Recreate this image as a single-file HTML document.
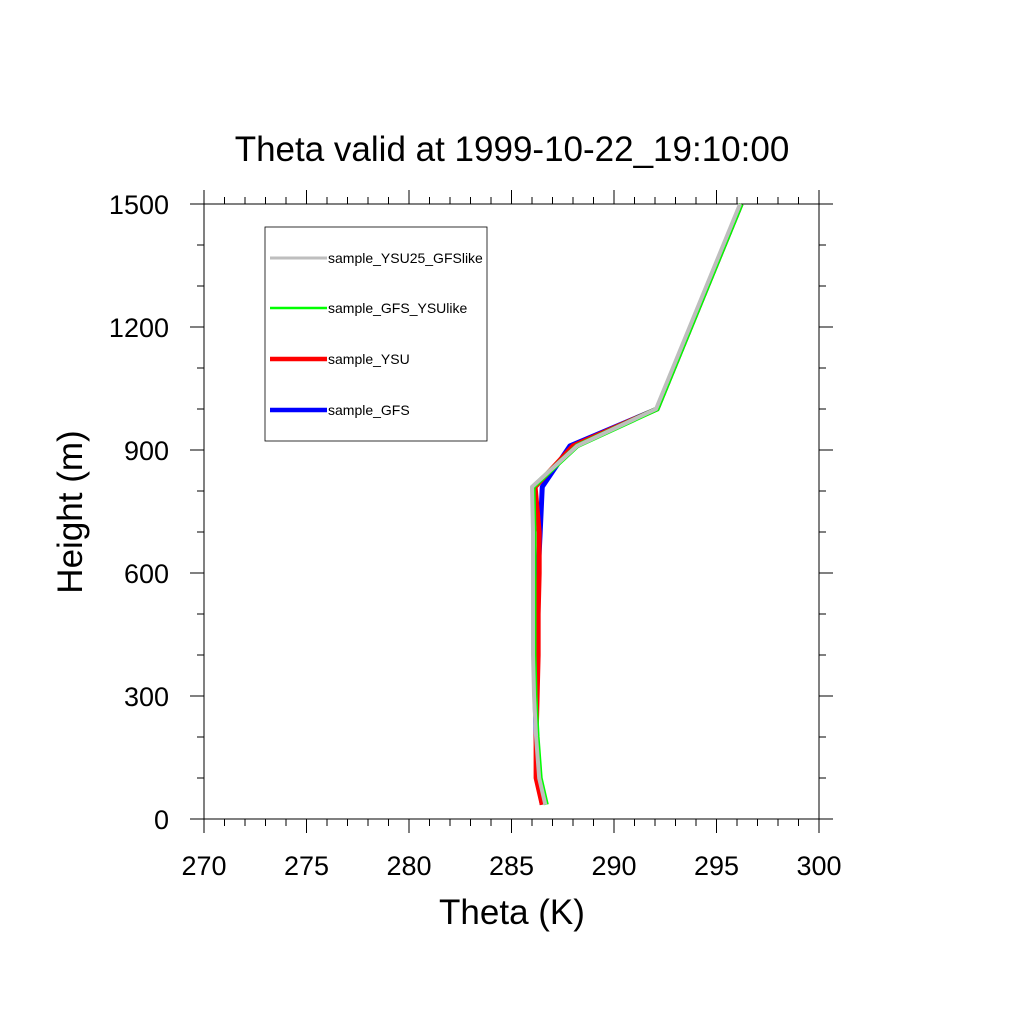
<!DOCTYPE html>
<html><head><meta charset="utf-8"><style>
body{margin:0;background:#fff;}
svg text{font-family:"Liberation Sans",sans-serif;fill:#000;}
</style></head><body>
<svg id="c" width="1024" height="1024" xmlns="http://www.w3.org/2000/svg">
<text x="512" y="161" font-size="35" text-anchor="middle">Theta valid at 1999-10-22_19:10:00</text>
<g id="axes"></g>
<g id="series"></g>
<text x="512" y="924" font-size="35" text-anchor="middle">Theta (K)</text>
<text transform="translate(82,512) rotate(-90)" font-size="35" text-anchor="middle">Height (m)</text>
<g>
<rect x="265" y="227" width="222" height="214" fill="none" stroke="#000" stroke-width="0.8"/>
<g id="legend"></g>
</g>
</svg>
<script>
const heights=[35,100,200,300,400,500,600,700,810,910,1000,1500];
const gfs=[286.5,286.3,286.2,286.15,286.15,286.2,286.3,286.4,286.5,287.85,292.1,296.2];
const ysu=[286.5,286.2,286.2,286.25,286.3,286.3,286.35,286.35,286.15,288.0,292.1,296.2];
const gfsYsulike=[286.7,286.4,286.25,286.15,286.1,286.1,286.1,286.1,286.05,288.2,292.1,296.2];
const ysu25Gfslike=[286.65,286.35,286.2,286.1,286.05,286.05,286.05,286.05,286.0,288.2,292.05,296.15];
const xTicks=[270,275,280,285,290,295,300];
const yTicks=[0,300,600,900,1200,1500];
const NS="http://www.w3.org/2000/svg";
const L=204,R=819,T=204,B=819;
const xs=v=>L+(v-270)/30*(R-L);
const ys=v=>B-v/1500*(B-T);
function mk(tag,attrs,parent){const e=document.createElementNS(NS,tag);for(const k in attrs)e.setAttribute(k,attrs[k]);parent.appendChild(e);return e;}
const ax=document.getElementById('axes');
const frame=mk('rect',{x:L,y:T,width:R-L,height:B-T,fill:'none',stroke:'#000','stroke-width':1},ax);


for(let v=270;v<=300;v++){const x=xs(v),len=(v%5===0)?14:7;
 const t1=mk('line',{x1:x,x2:x,y1:B,y2:B+len,stroke:'#000','stroke-width':1},ax);
 
 
 const t2=mk('line',{x1:x,x2:x,y1:T,y2:T-len,stroke:'#000','stroke-width':1},ax);
 
 }
for(let v=0;v<=1500;v+=100){const y=ys(v),len=(v%300===0)?14:7;
 const t1=mk('line',{x1:L,x2:L-len,y1:y,y2:y,stroke:'#000','stroke-width':1},ax);
 
 
 const t2=mk('line',{x1:R,x2:R+len,y1:y,y2:y,stroke:'#000','stroke-width':1},ax);
 
 }
xTicks.forEach(v=>{const t=mk('text',{x:xs(v),y:875,'font-size':27,'text-anchor':'middle'},ax);t.textContent=v;
 
 });
yTicks.forEach(v=>{const t=mk('text',{x:169,y:ys(v)+10,'font-size':27,'text-anchor':'end'},ax);t.textContent=v;
 
 });
const series=[
 {name:'sample_GFS',vals:gfs,color:'#0000ff',w:5,ly:410},
 {name:'sample_YSU',vals:ysu,color:'#ff0000',w:5,ly:359},
 {name:'sample_GFS_YSUlike',vals:gfsYsulike,color:'#00ff00',w:5,ly:308,lw:2.5},
 {name:'sample_YSU25_GFSlike',vals:ysu25Gfslike,color:'#bebebe',w:4,ly:258,lw:3}];
const sg=document.getElementById('series'),lg=document.getElementById('legend');
series.forEach(s=>{
 const p=mk('polyline',{points:s.vals.map((v,i)=>xs(v)+','+ys(heights[i])).join(' '),fill:'none',stroke:s.color,'stroke-width':s.w,'stroke-linejoin':'round'},sg);
 
 
 const ll=mk('line',{x1:270,x2:327,y1:s.ly,y2:s.ly,stroke:s.color,'stroke-width':s.lw||4.5},lg);
 
 
 const lt=mk('text',{x:328,y:s.ly+5,'font-size':14},lg);lt.textContent=s.name;
 
 
});
</script>
</body></html>
